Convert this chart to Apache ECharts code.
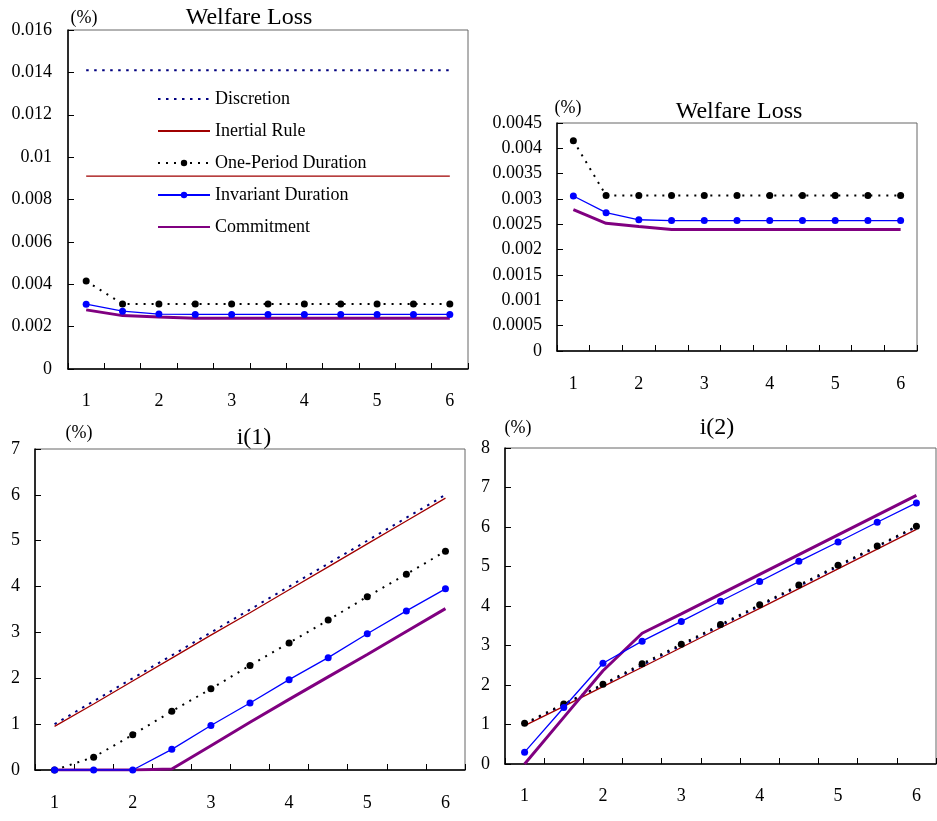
<!DOCTYPE html>
<html>
<head>
<meta charset="utf-8">
<script src="https://cdn.jsdelivr.net/npm/echarts@6/dist/echarts.min.js"></script>
<style>
html,body{margin:0;padding:0;background:#fff;}
#chart{width:937px;height:821px;}
</style>
</head>
<body>
<div id="chart"></div>
<script>
// ---- data ----
const categories = ['1','1.5','2','2.5','3','3.5','4','4.5','5','5.5','6'];

// Welfare loss (same data shown on two scales)
const wlDiscretion  = [0.0141,0.0141,0.0141,0.0141,0.0141,0.0141,0.0141,0.0141,0.0141,0.0141,0.0141];
const wlInertial    = [0.0091,0.0091,0.0091,0.0091,0.0091,0.0091,0.0091,0.0091,0.0091,0.0091,0.0091];
const wlOnePeriod   = [0.00415,0.00307,0.00307,0.00307,0.00307,0.00307,0.00307,0.00307,0.00307,0.00307,0.00307];
const wlInvariant   = [0.00306,0.00273,0.00259,0.002575,0.002575,0.002575,0.002575,0.002575,0.002575,0.002575,0.002575];
const wlCommitment  = [0.00279,0.00252,0.002455,0.0024,0.0024,0.0024,0.0024,0.0024,0.0024,0.0024,0.0024];

// i(1)
const i1Discretion  = [1.0,1.5,2.0,2.5,3.0,3.5,4.0,4.5,5.0,5.5,6.0];
const i1Inertial    = [0.95,1.44,1.94,2.44,2.94,3.43,3.93,4.43,4.93,5.43,5.93];
const i1OnePeriod   = [0,0.28,0.77,1.28,1.77,2.28,2.77,3.27,3.78,4.27,4.77];
const i1Invariant   = [0,0,0,0.45,0.97,1.46,1.97,2.45,2.97,3.47,3.95];
const i1Commitment  = [0,0,0,0.02,0.53,1.04,1.54,2.03,2.52,3.02,3.52];

// i(2)
const i2Discretion  = [1.0,1.5,2.0,2.5,3.0,3.5,4.0,4.5,5.0,5.5,6.0];
const i2Inertial    = [0.97,1.46,1.96,2.45,2.95,3.45,3.94,4.44,4.94,5.44,5.94];
const i2OnePeriod   = [1.03,1.52,2.02,2.54,3.03,3.53,4.03,4.53,5.03,5.52,6.02];
const i2Invariant   = [0.30,1.43,2.55,3.11,3.61,4.12,4.62,5.13,5.62,6.12,6.61];
const i2Commitment  = [0,1.18,2.36,3.31,3.80,4.30,4.80,5.30,5.80,6.30,6.80];

const seriesNames = ['Discretion','Inertial Rule','One-Period Duration','Invariant Duration','Commitment'];
const panelTitles = ['Welfare Loss','Welfare Loss','i(1)','i(2)'];
const unitLabel = '(%)';

// ---- styling ----
const FONT = '"Liberation Serif","Times New Roman",serif';
const styles = {
  'Discretion': {color:'#000080', lineStyle:{color:'#000080', width:2, type:[2.5,5.5]}, symbol:'none', z:2},
  'Inertial Rule': {color:'#a00000', lineStyle:{color:'#a00000', width:1.3, type:'solid'}, symbol:'none', z:3},
  'One-Period Duration': {color:'#000', lineStyle:{color:'#000', width:2, type:[2,6]}, symbol:'circle', symbolSize:7, z:4},
  'Commitment': {color:'#800080', lineStyle:{color:'#800080', width:3, type:'solid'}, symbol:'none', z:5},
  'Invariant Duration': {color:'#0000ff', lineStyle:{color:'#0000ff', width:1.3, type:'solid'}, symbol:'circle', symbolSize:7, z:6}
};

const grids = [
  {left:68, top:30, width:400, height:339},
  {left:557, top:123, width:360, height:228},
  {left:35, top:449, width:430, height:321},
  {left:505, top:448, width:431, height:316}
];
const yAxes = [
  {max:0.016, interval:0.002, margin:16},
  {max:0.0045, interval:0.0005, margin:15},
  {max:7, interval:1, margin:15},
  {max:8, interval:1, margin:15}
];
const xMargins = [23, 24, 24, 23];

const panelData = [
  {'Discretion':wlDiscretion,'Inertial Rule':wlInertial,'One-Period Duration':wlOnePeriod,'Commitment':wlCommitment,'Invariant Duration':wlInvariant},
  {'One-Period Duration':wlOnePeriod,'Commitment':wlCommitment,'Invariant Duration':wlInvariant},
  {'Discretion':i1Discretion,'Inertial Rule':i1Inertial,'One-Period Duration':i1OnePeriod,'Commitment':i1Commitment,'Invariant Duration':i1Invariant},
  {'Discretion':i2Discretion,'Inertial Rule':i2Inertial,'One-Period Duration':i2OnePeriod,'Commitment':i2Commitment,'Invariant Duration':i2Invariant}
];
const drawOrder = ['Discretion','Inertial Rule','One-Period Duration','Commitment','Invariant Duration'];

const series = [];
panelData.forEach((pd, gi) => {
  drawOrder.forEach(name => {
    if (!pd[name]) return;
    const s = styles[name];
    series.push({
      name: name, type:'line', xAxisIndex:gi, yAxisIndex:gi,
      data: pd[name],
      symbol: s.symbol, symbolSize: s.symbolSize || 0, showSymbol: s.symbol !== 'none',
      itemStyle:{color:s.color},
      lineStyle: s.lineStyle, z: s.z,
      animation:false, silent:true
    });
  });
});

const titlePos = [
  {t:[249,18], u:[84,18]},
  {t:[739,112], u:[568,108]},
  {t:[254,438], u:[79,433]},
  {t:[717,428], u:[518,428]}
];
const graphics = [];
titlePos.forEach((p, i) => {
  graphics.push({type:'text', x:p.t[0], y:p.t[1], silent:true,
    style:{text:panelTitles[i], fontSize:24, fontFamily:FONT, fill:'#000',
      align:'center', verticalAlign:'middle', textAlign:'center', textVerticalAlign:'middle'}});
  graphics.push({type:'text', x:p.u[0], y:p.u[1], silent:true,
    style:{text:unitLabel, fontSize:18, fontFamily:FONT, fill:'#000',
      align:'center', verticalAlign:'middle', textAlign:'center', textVerticalAlign:'middle'}});
});

// legend entries: hide the marker for series drawn without symbols
const legendData = seriesNames.map(n => styles[n].symbol === 'none'
  ? {name:n, itemStyle:{opacity:0, borderWidth:0}}
  : {name:n});

const option = {
  backgroundColor:'#fff',
  animation:false,
  grid: grids.map(g => Object.assign({show:true, borderColor:'#666', borderWidth:1, backgroundColor:'transparent', containLabel:false}, g)),
  xAxis: grids.map((g, i) => ({
    type:'category', gridIndex:i, data:categories, boundaryGap:true,
    axisLine:{show:true, lineStyle:{color:'#000', width:1.5}},
    axisTick:{show:true, inside:true, length:6, interval:0, lineStyle:{color:'#000', width:1}},
    axisLabel:{interval:1, margin:xMargins[i], fontSize:18, fontFamily:FONT, color:'#000'},
    splitLine:{show:false}
  })),
  yAxis: yAxes.map((y, i) => ({
    type:'value', gridIndex:i, min:0, max:y.max, interval:y.interval,
    axisLine:{show:true, lineStyle:{color:'#000', width:1.5}},
    axisTick:{show:true, inside:true, length:6, lineStyle:{color:'#000', width:1}},
    axisLabel:{margin:y.margin, fontSize:18, fontFamily:FONT, color:'#000'},
    splitLine:{show:false}
  })),
  legend: {
    data: legendData, orient:'vertical', left:152, top:85, padding:5,
    itemWidth:52, itemHeight:8, itemGap:14,
    textStyle:{fontSize:18, fontFamily:FONT, color:'#000', lineHeight:18},
    selectedMode:false, backgroundColor:'transparent'
  },
  graphic: graphics,
  series: series
};

const chart = echarts.init(document.getElementById('chart'), null, {renderer:'canvas'});
chart.setOption(option);
</script>
</body>
</html>
